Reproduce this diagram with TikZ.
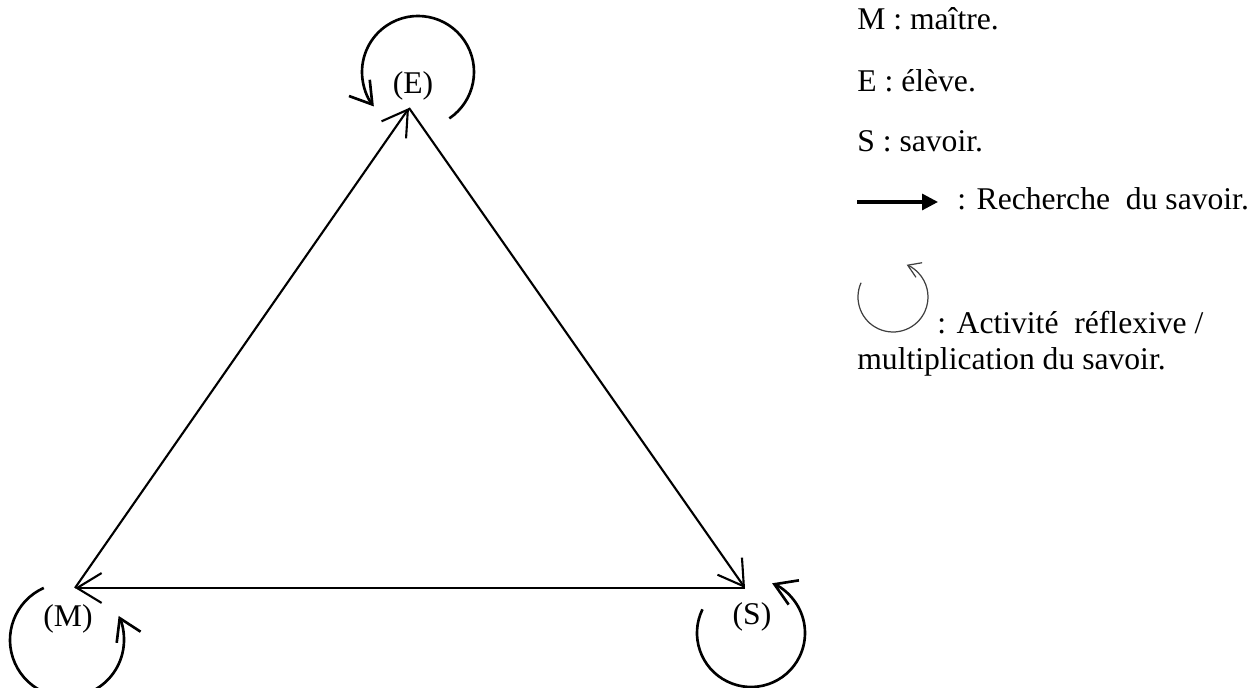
\documentclass[tikz,border=0pt]{standalone}
\usepackage{fontspec}
\setmainfont{Liberation Serif}
\usetikzlibrary{arrows.meta,calc}
\begin{document}
\begin{tikzpicture}[x=0.02cm,y=0.02cm,
  tri/.style={line width=1.2pt,-{Straight Barb[length=14pt,width=17pt,line width=1.2pt]}},
  loopy/.style={line width=1.5pt,-{Straight Barb[length=12pt,width=15pt,line width=1.5pt]}},
  legloop/.style={line width=0.7pt,draw=black!75,-{Straight Barb[length=7pt,width=9pt,line width=0.7pt]}},
  lbl/.style={font=\fontsize{18}{21}\selectfont,inner sep=0pt},
  legtxt/.style={font=\fontsize{18}{21}\selectfont,inner sep=0pt,anchor=base west}]
\clip (0,0) rectangle (1251,688);
\useasboundingbox (0,0) rectangle (1251,688);
% vertices
\coordinate (E) at (409,580);
\coordinate (M) at (75,100);
\coordinate (S) at (745,100);
\node[lbl] (Elbl) at (413,602) {(E)};
\node[lbl] (Mlbl) at (68,69) {(M)};
\node[lbl] (Slbl) at (752,71) {(S)};
% triangle arrows
\draw[tri] (M) -- (E);
\draw[tri] (E) -- (S);
\draw[tri] (S) -- (M);
% reflexive loops
\coordinate (Ec) at (418,616);
\coordinate (Mc) at (67,48);
\coordinate (Sc) at (751,55);
\draw[loopy] ($(Ec)+(-56:56)$) arc[start angle=-56,end angle=218,radius=56];
\draw[loopy] ($(Mc)+(114:57)$) arc[start angle=114,end angle=385,radius=57];
\draw[loopy] ($(Sc)+(154:54)$) arc[start angle=154,end angle=427,radius=54];
% legend
\node[legtxt] (l1) at (857,658) {M : maître.};
\node[legtxt] (l2) at (857,596) {E : élève.};
\node[legtxt] (l3) at (857,536) {S : savoir.};
\coordinate (la) at (857,486);
\coordinate (lb) at (938,486);
\draw[line width=1.8pt,-{Triangle[length=9pt,width=9pt]}] (la) -- (lb);
\node[legtxt] (l4) at (957,478) {: Recherche\ \ du savoir.};
\coordinate (Lc) at (893,391);
\draw[legloop] ($(Lc)+(156:35)$) arc[start angle=156,end angle=427,radius=35];
\node[legtxt] (l5) at (937,354) {: Activité\ \ réflexive /};
\node[legtxt] (l6) at (857,318) {multiplication du savoir.};
\end{tikzpicture}
\end{document}
